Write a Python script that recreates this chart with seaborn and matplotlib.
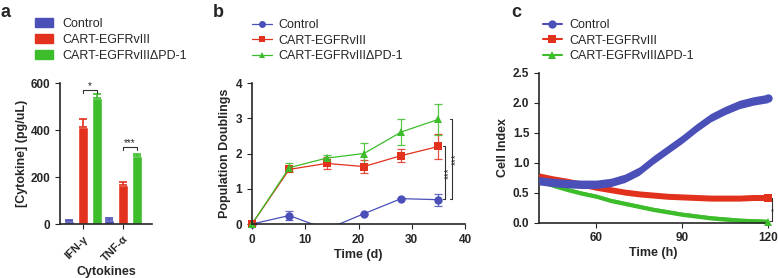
import numpy as np
import pandas as pd
import matplotlib
matplotlib.use("Agg")
import matplotlib.pyplot as plt
import seaborn as sns
from matplotlib.patches import Patch
from matplotlib.lines import Line2D

sns.set_style("ticks")
plt.rcParams['font.family'] = ['Liberation Sans', 'DejaVu Sans']
plt.rcParams['axes.linewidth'] = 1.2

groups = ["Control", "CART-EGFRvIII", "CART-EGFRvIII\u0394PD-1"]
colors = ["#4a50b8", "#e2311d", "#3dbd2b"]

# panel a - cytokines
cytokines = ["IFN-\u03b3", "TNF-\u03b1"]
cyto_mean = {"Control": [12, 18], "CART-EGFRvIII": [415, 168], "CART-EGFRvIII\u0394PD-1": [535, 290]}
cyto_err = {"Control": [4, 8], "CART-EGFRvIII": [30, 10], "CART-EGFRvIII\u0394PD-1": [20, 10]}

# panel b - population doublings
days = [0, 7, 14, 21, 28, 35]
pd_mean = {"Control": [0, 0.24, -0.15, 0.29, 0.72, 0.69],
           "CART-EGFRvIII": [0, 1.55, 1.72, 1.63, 1.94, 2.2],
           "CART-EGFRvIII\u0394PD-1": [0, 1.6, 1.87, 2.0, 2.61, 2.97]}
pd_err = {"Control": [0, 0.13, 0, 0, 0.02, 0.17],
          "CART-EGFRvIII": [0, 0.05, 0.17, 0.19, 0.18, 0.36],
          "CART-EGFRvIII\u0394PD-1": [0, 0.12, 0.1, 0.29, 0.38, 0.45]}

# panel c - cell index
hours = [40, 45, 50, 55, 60, 65, 70, 75, 80, 85, 90, 95, 100, 105, 110, 115, 120]
ci_mean = {"Control": [0.70, 0.67, 0.65, 0.64, 0.64, 0.67, 0.74, 0.86, 1.05, 1.22, 1.39, 1.58, 1.75, 1.87, 1.97, 2.03, 2.07],
           "CART-EGFRvIII": [0.78, 0.73, 0.69, 0.64, 0.59, 0.55, 0.51, 0.48, 0.46, 0.44, 0.43, 0.42, 0.41, 0.41, 0.41, 0.42, 0.42],
           "CART-EGFRvIII\u0394PD-1": [0.70, 0.62, 0.55, 0.49, 0.44, 0.37, 0.32, 0.27, 0.22, 0.18, 0.14, 0.11, 0.08, 0.06, 0.04, 0.03, 0.02]}
ci_band = {"Control": 0.07, "CART-EGFRvIII": 0.05, "CART-EGFRvIII\u0394PD-1": 0.035}

fig = plt.figure(figsize=(7.78, 2.78), dpi=100)
ax_a = fig.add_axes([0.0771, 0.1942, 0.1183, 0.507])
ax_b = fig.add_axes([0.3239, 0.1942, 0.2738, 0.507])
ax_c = fig.add_axes([0.6928, 0.1989, 0.2943, 0.5396])

lab_font = dict(fontsize=9, fontweight='bold')


def bold_ticks(ax, size=8.5):
    for t in ax.get_xticklabels() + ax.get_yticklabels():
        t.set_fontsize(size)
        t.set_fontweight('bold')


def legend_top(ax, handles, x, y, **kw):
    ax.legend(handles=handles, loc='upper left', bbox_to_anchor=(x, y),
              bbox_transform=fig.transFigure, frameon=False, fontsize=9,
              labelspacing=0.3, borderaxespad=0, borderpad=0, **kw)


# ---- a ----
rows = []
for g in groups:
    for i, c in enumerate(cytokines):
        rows.append({"cytokine": c, "group": g, "value": cyto_mean[g][i]})
df_a = pd.DataFrame(rows)
sns.barplot(data=df_a, x="cytokine", y="value", hue="group", palette=colors, saturation=1,
            width=1.05, gap=0.25, errorbar=None, legend=False, ax=ax_a)
offsets = [-0.35, 0, 0.35]
for k, g in enumerate(groups):
    xs = np.arange(len(cytokines)) + offsets[k]
    ax_a.errorbar(xs, cyto_mean[g], yerr=[np.zeros(2), cyto_err[g]], fmt='none',
                  ecolor=colors[k], elinewidth=1.2, capsize=3, capthick=1.2)
ax_a.set_xlim(-0.575, 1.725)
ax_a.set_ylim(0, 600)
ax_a.set_yticks([0, 200, 400, 600])
ax_a.set_xticks([0, 1])
ax_a.set_xticklabels(cytokines, rotation=45, ha='right', rotation_mode='anchor')
bold_ticks(ax_a)
for t in ax_a.get_xticklabels():
    t.set_fontsize(8)
ax_a.set_xlabel("Cytokines", **lab_font)
ax_a.xaxis.set_label_coords(0.5, -0.295)
ax_a.set_ylabel("[Cytokine] (pg/uL)", labelpad=2, **lab_font)
sns.despine(ax=ax_a)
# significance brackets
for gx, top, star in [(0, 570, "*"), (1, 328, "***")]:
    x1, x2 = gx, gx + 0.35
    ax_a.plot([x1, x1, x2, x2], [top - 14, top, top, top - 14], color='#333333', lw=0.8, clip_on=False)
    ax_a.text((x1 + x2) / 2, top - 4, star, ha='center', va='bottom', fontsize=7)
legend_top(ax_a, [Patch(color=c, label=g) for c, g in zip(colors, groups)], 0.045, 0.935,
           handlelength=1.4, handleheight=0.75, handletextpad=0.75)

# ---- b ----
rows = []
for g in groups:
    for t, v in zip(days, pd_mean[g]):
        rows.append({"day": t, "group": g, "value": v})
df_b = pd.DataFrame(rows)
markers = ['o', 's', '^']
for k, g in enumerate(groups):
    ax_b.errorbar(days, pd_mean[g], yerr=pd_err[g], fmt='none', ecolor=colors[k],
                  elinewidth=0.9, capsize=3, capthick=0.9, alpha=0.85)
sns.lineplot(data=df_b, x="day", y="value", hue="group", style="group", palette=colors,
             markers=markers, dashes=False, markersize=6, markeredgewidth=0, linewidth=0.9,
             errorbar=None, legend=False, ax=ax_b)
ax_b.set_xlim(0, 40)
ax_b.set_ylim(0, 4)
ax_b.set_xticks([0, 10, 20, 30, 40])
ax_b.set_yticks([0, 1, 2, 3, 4])
bold_ticks(ax_b)
ax_b.set_xlabel("Time (d)", labelpad=2, **lab_font)
ax_b.set_ylabel("Population Doublings", labelpad=3, **lab_font)
sns.despine(ax=ax_b)
# origin markers drawn unclipped
for k, g in enumerate(groups):
    ax_b.plot(days[0], pd_mean[g][0], marker=markers[k], color=colors[k], ms=6, mew=0, clip_on=False)
for xb, ytop, ybot, xs in [(36.3, 2.2, 0.7, 36.9), (37.6, 2.97, 0.7, 38.3)]:
    ax_b.plot([xb - 0.5, xb, xb, xb - 0.5], [ytop, ytop, ybot, ybot], color='#333333', lw=0.8, clip_on=False)
    ax_b.text(xs, (ytop + ybot) / 2, "***", rotation=90, ha='center', va='center', fontsize=7)
legend_top(ax_b, [Line2D([0], [0], color=c, marker=m, ms=5, mew=0, lw=0.9, label=g)
                  for c, m, g in zip(colors, markers, groups)], 0.324, 0.932,
           handlelength=1.6, handletextpad=0.5)

# ---- c ----
rows = []
for g in groups:
    for t, v in zip(hours, ci_mean[g]):
        rows.append({"hour": t, "group": g, "value": v})
df_c = pd.DataFrame(rows)
zord = {"Control": 3, "CART-EGFRvIII": 2.5, "CART-EGFRvIII\u0394PD-1": 2.2}
for k, g in enumerate(groups):
    m = np.array(ci_mean[g])
    ax_c.fill_between(hours, m - ci_band[g], m + ci_band[g], color=colors[k], lw=0, zorder=zord[g])
sns.lineplot(data=df_c, x="hour", y="value", hue="group", palette=colors, linewidth=2.5,
             errorbar=None, legend=False, ax=ax_c)
for k, g in enumerate(groups):
    ax_c.lines[k].set_zorder(zord[g] + 0.05)
    ax_c.plot(hours[-1], ci_mean[g][-1], marker=markers[k], color=colors[k], ms=6, mew=0, clip_on=False, zorder=4)
ax_c.set_xlim(40, 120)
ax_c.set_ylim(0, 2.5)
ax_c.set_xticks([60, 90, 120])
ax_c.set_yticks([0, 0.5, 1.0, 1.5, 2.0, 2.5])
ax_c.set_yticklabels(["0.0", "0.5", "1.0", "1.5", "2.0", "2.5"])
bold_ticks(ax_c)
ax_c.set_xlabel("Time (h)", labelpad=2, **lab_font)
ax_c.set_ylabel("Cell Index", labelpad=3, **lab_font)
sns.despine(ax=ax_c)
ax_c.plot([120.8, 121.5, 121.5, 120.8], [0.42, 0.42, 0.03, 0.03], color='#333333', lw=0.8, clip_on=False)
ax_c.text(122.5, 0.23, "*", rotation=90, ha='center', va='center', fontsize=6)
legend_top(ax_c, [Line2D([0], [0], color=c, marker=m, ms=6, mew=0, lw=1.5, label=g)
                  for c, m, g in zip(colors, markers, groups)], 0.698, 0.932,
           handlelength=1.5, handletextpad=0.6)

# panel letters
for x, y, s in [(0.001, 0.985, "a"), (0.273, 0.985, "b"), (0.657, 0.985, "c")]:
    fig.text(x, y, s, fontsize=13, fontweight='bold', ha='left', va='top')

fig.savefig("out.png", dpi=100)
